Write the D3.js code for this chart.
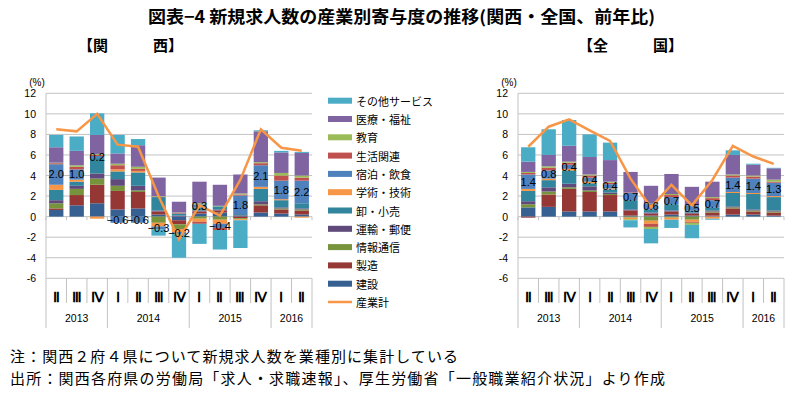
<!DOCTYPE html>
<html>
<head>
<meta charset="utf-8">
<script src="https://cdn.jsdelivr.net/npm/d3@7"></script>
<style>
  body { margin: 0; background: #fff; }
  text { font-family: "Liberation Sans", Arial, sans-serif; fill: #000; }
  .jp { font-family: "Noto Sans CJK JP", sans-serif; }
</style>
</head>
<body>
<div id="chart"></div>
<script>
////////////////////////////////////////////////////////////////////
//////////////////////////////  Data  //////////////////////////////
const quarterLabels = ["Ⅱ", "Ⅲ", "Ⅳ", "Ⅰ", "Ⅱ", "Ⅲ", "Ⅳ", "Ⅰ", "Ⅱ", "Ⅲ", "Ⅳ", "Ⅰ", "Ⅱ"];
const yearLabels = ["2013", "2014", "2015", "2016"];
const yearCounts = [3, 4, 4, 2];
const yTicks = [-6, -4, -2, 0, 2, 4, 6, 8, 10, 12];

// stack order, bottom -> top
const seriesNames = ["建設", "製造", "情報通信", "運輸・郵便", "卸・小売", "学術・技術",
  "宿泊・飲食", "生活関連", "教育", "医療・福祉", "その他サービス"];
const seriesColors = ["#376092", "#953735", "#77933c", "#604a7b", "#31859c", "#f79646",
  "#4f81bd", "#c0504d", "#9bbb59", "#8064a2", "#4bacc6"];
const totalName = "産業計";
const labelSeries = "宿泊・飲食";

// 関西
const kansaiKensetsu   = [0.65, 1.1, 1.3, 0.7, 0.8, 0.2, -0.35, 0.3, 0.4, 0.1, 0.4, 0.3, 0.2];
const kansaiSeizo      = [0.15, 1.0, 1.8, 1.8, 1.6, 0.3, -0.4, 0.2, 0.2, -0.15, 0.7, 0.4, 0.4];
const kansaiJoho       = [0.5, 0.6, 0.6, 0.5, 0.15, -0.6, -0.45, -0.2, -0.3, -0.1, 0.1, 0.1, 0.1];
const kansaiUnyu       = [0.3, 0.3, 0.5, 0.65, 0.45, 0.1, 0.1, 0.1, 0.1, 0.05, 0.3, 0.1, 0.1];
const kansaiOroshi     = [1.0, 0.4, 1.5, 0.75, 1.3, 1.3, 0.2, 0.3, 0.3, 0.1, 1.2, 0.7, 0.5];
const kansaiGakujutsu  = [0.5, 0.2, -0.2, 0.2, 0.15, -0.35, -0.3, -0.3, -0.4, -0.1, 0.2, 0.1, -0.1];
const kansaiShukuhaku  = [2.0, 1.0, 0.2, -0.6, -0.6, -0.3, -0.2, 0.3, -0.4, 1.8, 2.1, 1.8, 2.2];
const kansaiSeikatsu   = [0.1, 0.25, 0.1, 0.4, 0.2, 0.05, 0.05, -0.2, -0.2, 0.1, 0.2, 0.5, 0.3];
const kansaiKyoiku     = [0.05, 0.15, 0.1, 0.15, 0.2, 0.05, 0.05, 0.1, 0.05, 0.1, 0.1, 0.25, 0.2];
const kansaiIryo       = [1.5, 1.4, 1.85, 1.0, 2.1, 1.8, 1.05, 2.1, 2.05, 1.85, 3.0, 2.0, 2.2];
const kansaiSonota     = [1.2, 1.4, 2.1, 1.8, 0.6, -0.6, -2.3, -1.95, -1.9, -2.7, 0.1, 0.15, 0.1];
const kansaiTotal      = [8.5, 8.3, 10.0, 7.0, 6.8, 2.0, -2.2, 1.1, 0.1, 3.6, 8.5, 6.7, 6.4];

// 全国
const zenkokuKensetsu  = [0.9, 0.95, 0.5, 0.5, 0.5, 0.1, 0.1, 0.2, 0.1, 0.1, 0.2, 0.2, 0.1];
const zenkokuSeizo     = [-0.1, 1.2, 2.2, 1.9, 1.6, 0.5, 0.2, 0.3, 0.2, 0.3, 0.6, 0.3, 0.3];
const zenkokuJoho      = [0.3, 0.3, 0.15, 0.15, 0.1, -0.1, -0.4, -0.1, -0.3, 0.1, 0.1, 0.1, 0.1];
const zenkokuUnyu      = [0.3, 0.4, 0.35, 0.4, 0.15, 0.1, 0.1, 0.1, 0.1, 0.1, 0.1, 0.1, 0.1];
const zenkokuOroshi    = [1.0, 0.7, 1.3, 0.3, 0.3, 0.9, 0.3, 0.6, 0.2, 0.3, 1.3, 1.5, 1.3];
const zenkokuGakujutsu = [0.2, 0.15, 0.15, 0.15, 0.1, -0.15, -0.3, -0.2, -0.2, -0.2, 0.1, 0.1, 0.1];
const zenkokuShukuhaku = [1.4, 0.8, 0.4, 0.4, 0.4, 0.7, 0.6, 0.7, 0.5, 0.7, 1.4, 1.4, 1.3];
const zenkokuSeikatsu  = [0.15, 0.25, 0.2, 0.2, 0.15, 0.05, -0.3, 0.2, -0.1, 0.2, 0.2, 0.2, 0.1];
const zenkokuKyoiku    = [0.1, 0.15, 0.1, 0.1, 0.1, -0.1, -0.2, 0.1, -0.2, 0.1, 0.1, 0.1, 0.2];
const zenkokuIryo      = [1.0, 1.1, 1.55, 1.7, 2.1, 2.0, 1.7, 1.95, 1.8, 1.5, 1.9, 1.05, 1.1];
const zenkokuSonota    = [1.4, 2.5, 2.5, 2.2, 1.7, -0.7, -1.4, -0.8, -1.3, -0.1, 0.45, 0.1, 0.05];
const zenkokuTotal     = [6.8, 8.75, 9.47, 8.4, 7.36, 3.7, 0.9, 3.1, 1.1, 3.57, 6.88, 5.85, 5.13];

const kansaiSeries = [kansaiKensetsu, kansaiSeizo, kansaiJoho, kansaiUnyu, kansaiOroshi,
  kansaiGakujutsu, kansaiShukuhaku, kansaiSeikatsu, kansaiKyoiku, kansaiIryo, kansaiSonota];
const zenkokuSeries = [zenkokuKensetsu, zenkokuSeizo, zenkokuJoho, zenkokuUnyu, zenkokuOroshi,
  zenkokuGakujutsu, zenkokuShukuhaku, zenkokuSeikatsu, zenkokuKyoiku, zenkokuIryo, zenkokuSonota];

////////////////////////////////////////////////////////////////////
//////////////////////////////  Init  //////////////////////////////
const width = 800, height = 395;
const svg = d3.select("#chart").append("svg")
  .attr("width", width).attr("height", height);

const plotTop = 93.3, plotBottom = 278.3;
const gridColor = "#c2c2c2";

// title
svg.append("text").attr("class", "jp")
  .attr("x", 148).attr("y", 23)
  .attr("font-size", 17).attr("font-weight", "bold")
  .attr("textLength", 507).attr("lengthAdjust", "spacingAndGlyphs")
  .text("図表−4 新規求人数の産業別寄与度の推移(関西・全国、前年比)");

svg.append("text").attr("class", "jp")
  .attr("x", 78).attr("y", 51)
  .attr("font-size", 15).attr("font-weight", "bold")
  .text("【関　　　西】");
svg.append("text").attr("class", "jp")
  .attr("x", 578).attr("y", 51)
  .attr("font-size", 15).attr("font-weight", "bold")
  .text("【全　　　国】");

////////////////////////////////////////////////////////////////////
//////////////////////////////  Panel  /////////////////////////////
function drawPanel(x0, x1, seriesArrays, totals) {
  const g = svg.append("g");

  const x = d3.scaleBand().domain(d3.range(quarterLabels.length))
    .range([x0, x1]).paddingInner(0.3).paddingOuter(0.15);
  const y = d3.scaleLinear().domain([-6, 12]).range([plotBottom, plotTop]);
  const step = x.step();
  const edge = (k) => x0 + k * step;

  // rows for d3.stack
  const rows = quarterLabels.map((q, i) => {
    const r = { idx: i };
    seriesNames.forEach((n, k) => (r[n] = seriesArrays[k][i]));
    return r;
  });
  const stacked = d3.stack().keys(seriesNames).offset(d3.stackOffsetDiverging)(rows);

  // grid
  g.selectAll(".grid").data(yTicks).enter().append("line")
    .attr("x1", x0).attr("x2", x1)
    .attr("y1", (d) => y(d)).attr("y2", (d) => y(d))
    .attr("stroke", gridColor).attr("stroke-width", 1);

  // y labels
  g.selectAll(".ylab").data(yTicks).enter().append("text")
    .attr("x", x0 - 10).attr("y", (d) => y(d))
    .attr("text-anchor", "end").attr("dominant-baseline", "central")
    .attr("font-size", 10.5).attr("fill", "#111")
    .text((d) => d);
  g.append("text").attr("x", x0 - 9).attr("y", 82)
    .attr("text-anchor", "middle").attr("dominant-baseline", "central")
    .attr("font-size", 10).text("(%)");

  // bars
  g.selectAll(".layer").data(stacked).enter().append("g")
    .attr("fill", (d, i) => seriesColors[i])
    .selectAll("rect").data((d) => d).enter().append("rect")
    .attr("x", (d) => x(d.data.idx))
    .attr("width", x.bandwidth())
    .attr("y", (d) => y(Math.max(d[0], d[1])))
    .attr("height", (d) => Math.abs(y(d[0]) - y(d[1])));

  // axis lines
  g.append("line").attr("x1", x0).attr("x2", x0)
    .attr("y1", plotTop).attr("y2", 328)
    .attr("stroke", gridColor);
  g.selectAll(".tick0").data(d3.range(quarterLabels.length + 1)).enter().append("line")
    .attr("x1", (k) => edge(k)).attr("x2", (k) => edge(k))
    .attr("y1", y(0)).attr("y2", y(0) + 3.5)
    .attr("stroke", gridColor);

  // category separators
  const yearEdges = [0];
  yearCounts.forEach((c) => yearEdges.push(yearEdges[yearEdges.length - 1] + c));
  g.selectAll(".sep").data(d3.range(1, quarterLabels.length + 1)).enter().append("line")
    .attr("x1", (k) => edge(k)).attr("x2", (k) => edge(k))
    .attr("y1", plotBottom)
    .attr("y2", (k) => (yearEdges.includes(k) ? 328 : 303))
    .attr("stroke", gridColor);

  // quarter labels
  g.selectAll(".qlab").data(quarterLabels).enter().append("text")
    .attr("x", (d, i) => x(i) + x.bandwidth() / 2).attr("y", 297)
    .attr("text-anchor", "middle").attr("dominant-baseline", "central")
    .attr("font-family", "'DejaVu Serif', 'Noto Sans CJK JP', serif")
    .attr("font-size", 13.5).attr("font-weight", "bold").attr("fill", "#111")
    .text((d) => d);

  // year labels
  g.selectAll(".ylabel").data(yearLabels).enter().append("text")
    .attr("x", (d, i) => (edge(yearEdges[i]) + edge(yearEdges[i + 1])) / 2)
    .attr("y", 318)
    .attr("text-anchor", "middle").attr("dominant-baseline", "central")
    .attr("font-size", 10.5).attr("fill", "#111")
    .text((d) => d);

  // total line
  const line = d3.line()
    .x((d, i) => x(i) + x.bandwidth() / 2)
    .y((d) => y(d));
  g.append("path").datum(totals)
    .attr("d", line)
    .attr("fill", "none")
    .attr("stroke", "#f79646")
    .attr("stroke-width", 2.5)
    .attr("stroke-linejoin", "miter");

  // data labels for 宿泊・飲食
  const lab = stacked[seriesNames.indexOf(labelSeries)];
  g.selectAll(".dlab").data(lab).enter().append("text")
    .attr("x", (d) => x(d.data.idx) + x.bandwidth() / 2)
    .attr("y", (d) => y((d[0] + d[1]) / 2))
    .attr("text-anchor", "middle").attr("dominant-baseline", "central")
    .attr("font-size", 11).attr("fill", "#111")
    .text((d) => d3.format(".1f")(d.data[labelSeries]));
}

drawPanel(46, 312, kansaiSeries, kansaiTotal);
drawPanel(518, 784, zenkokuSeries, zenkokuTotal);

////////////////////////////////////////////////////////////////////
//////////////////////////////  Legend  ////////////////////////////
const legendItems = seriesNames.slice().reverse().concat([totalName]);
const legendColors = seriesColors.slice().reverse().concat(["#f79646"]);
const legend = svg.append("g");
legendItems.forEach((name, i) => {
  const cy = 100.7 + i * 18.3;
  if (name === totalName) {
    legend.append("line").attr("x1", 328).attr("x2", 352)
      .attr("y1", cy).attr("y2", cy)
      .attr("stroke", legendColors[i]).attr("stroke-width", 2.5);
  } else {
    legend.append("rect").attr("x", 328).attr("y", cy - 3)
      .attr("width", 24).attr("height", 6).attr("fill", legendColors[i]);
  }
  legend.append("text").attr("class", "jp")
    .attr("x", 356).attr("y", cy)
    .attr("dominant-baseline", "central")
    .attr("font-size", 11).attr("fill", "#111")
    .text(name);
});

////////////////////////////////////////////////////////////////////
//////////////////////////////  Notes  /////////////////////////////
svg.append("text").attr("class", "jp")
  .attr("x", 10).attr("y", 362).attr("font-size", 15)
  .attr("textLength", 448).attr("lengthAdjust", "spacing")
  .text("注：関西２府４県について新規求人数を業種別に集計している");
svg.append("text").attr("class", "jp")
  .attr("x", 10).attr("y", 384).attr("font-size", 15)
  .attr("textLength", 655).attr("lengthAdjust", "spacing")
  .text("出所：関西各府県の労働局「求人・求職速報」、厚生労働省「一般職業紹介状況」より作成");
</script>
</body>
</html>
